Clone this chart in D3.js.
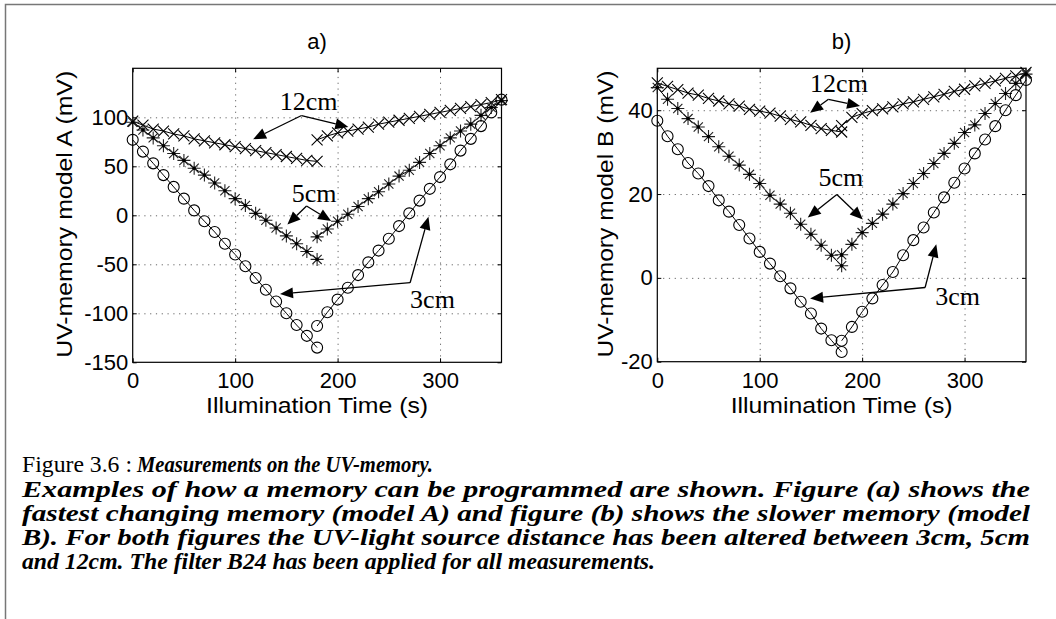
<!DOCTYPE html>
<html>
<head>
<meta charset="utf-8">
<script src="https://cdn.jsdelivr.net/npm/d3@7"></script>
<style>
  body { margin: 0; background: #fff; }
  svg { display: block; }
  .tick text { font-family: "Liberation Sans", Arial, sans-serif; font-size: 22px; fill: #000; }
  .lbl { font-family: "Liberation Sans", Arial, sans-serif; font-size: 22px; fill: #000; }
  .note { font-family: "Liberation Serif", "Times New Roman", serif; font-size: 26px; fill: #000; }
  .cap { font-family: "Liberation Serif", "Times New Roman", serif; font-size: 23.5px; fill: #000; }
</style>
</head>
<body>
<div id="chart"></div>
<script>
// illumination times (s)
const timeDown = [0, 10, 20, 30, 40, 50, 60, 70, 80, 90, 100, 110, 120, 130, 140, 150, 160, 170, 180];
const timeUp = [180, 190, 200, 210, 220, 230, 240, 250, 260, 270, 280, 290, 300, 310, 320, 330, 340, 350, 360];
const xTicks = [0, 100, 200, 300];

// model A (mV)
const a3Down = [77, 65, 53, 41, 29, 17, 5, -6, -17, -29, -40, -52, -64, -76, -88, -100, -112, -123, -135];
const a3Up = [-113, -99, -86, -74, -61, -48, -36, -24, -11, 2, 15, 27, 39, 52, 66, 78, 91, 105, 118];
const a5Down = [95, 87, 79, 71, 63, 56, 48, 41, 33, 25, 17, 10, 2, -5, -13, -21, -29, -37, -45];
const a5Up = [-22, -14, -6, 1, 9, 17, 24, 32, 40, 46, 54, 63, 71, 79, 86, 93, 102, 110, 117];
const a12Down = [96, 92, 88, 86, 83, 81, 78, 76, 74, 72, 70, 68, 66, 64, 62, 60, 58, 56, 55];
const a12Up = [77, 81, 84, 86, 88, 90, 93, 95, 97, 99, 101, 103, 105, 107, 109, 111, 113, 115, 118];
const aTicks = [-150, -100, -50, 0, 50, 100];

// model B (mV)
const b3Down = [37.5, 33.8, 30.7, 27.4, 24.9, 21.9, 18.5, 15.8, 12.6, 9.4, 6.2, 3.4, 0.4, -2.5, -5.7, -8.5, -12.1, -14.9, -17.7];
const b3Up = [-15, -11.7, -8.1, -4.9, -1.7, 1.4, 5.4, 9, 12, 15.6, 19.2, 22.7, 26.1, 29.7, 33, 36.2, 40, 43.6, 47.2];
const b5Down = [45.4, 42.6, 40.4, 38, 36, 33.7, 31.3, 29, 26.9, 24.7, 22.5, 19.7, 17.6, 15.4, 12.8, 10.4, 7.8, 5.4, 2.9];
const b5Up = [5.5, 8, 10.8, 13, 15.2, 17.6, 20.1, 22.5, 24.9, 27.3, 29.7, 32.1, 34.7, 36.5, 39.2, 41.6, 44, 46.4, 48.6];
const b12Down = [46.5, 45.7, 44.9, 44.1, 43.6, 42.8, 42.2, 41.5, 41.0, 40.2, 39.8, 39.3, 38.6, 37.8, 37.2, 36.4, 35.6, 35.2, 34.8];
const b12Up = [36.3, 38.3, 39.2, 39.9, 40.3, 40.8, 41.5, 42, 42.6, 43.2, 43.8, 44.5, 45, 45.8, 46.4, 47, 47.6, 48.2, 49];
const bTicks = [-20, 0, 20, 40];

// annotations in data units: label, text anchor [t, v], vertex, arrow tips
const aNotes = [
    { label: "12cm", text: [143.6, 107.4], vertex: [164.8, 101.8], tips: [[117.5, 77.6], [210.5, 90.1]] },
    { label: "5cm", text: [155.3, 13.3], vertex: [169.7, 9.5], tips: [[151, -9.4], [193.7, -5.8]] },
    { label: "3cm", text: [270.8, -94.9], vertex: [270.8, -68.8], tips: [[143.8, -80.3], [288.7, -1.4]] }
];
const bNotes = [
    { label: "12cm", text: [149.2, 44.4], vertex: [167.1, 42.6], tips: [[149.2, 39.4], [198, 41]] },
    { label: "5cm", text: [157.3, 21.9], vertex: [175.3, 19.9], tips: [[146.9, 14.4], [200.7, 13.9]] },
    { label: "3cm", text: [271.3, -6.5], vertex: [261.5, -2.3], tips: [[149.2, -4.9], [272.4, 8]] }
];

const width = 1056, height = 619;
const svg = d3.select("#chart").append("svg")
    .attr("width", width)
    .attr("height", height);

svg.append("rect").attr("width", width).attr("height", height).attr("fill", "#fff");

// page frame
svg.append("path")
    .attr("d", "M5.5,619V4.5H1056")
    .attr("fill", "none")
    .attr("stroke", "#777")
    .attr("stroke-width", 1.5);

function drawPanel(p) {
    const x = d3.scaleLinear().domain([0, 360]).range([p.left, p.right]);
    const y = d3.scaleLinear().domain(p.yDomain).range([p.bottom, p.top]);
    const g = svg.append("g");
    const w = p.right - p.left, h = p.bottom - p.top;

    // dotted grid
    const gridX = g.append("g")
        .attr("transform", `translate(0,${p.bottom})`)
        .call(d3.axisBottom(x).tickValues(xTicks.filter(t => t > 0)).tickSize(-h).tickFormat(""));
    const gridY = g.append("g")
        .attr("transform", `translate(${p.left},0)`)
        .call(d3.axisLeft(y).tickValues(p.yTicks.filter(t => t > p.yDomain[0])).tickSize(-w).tickFormat(""));
    [gridX, gridY].forEach(s => {
        s.select(".domain").remove();
        s.selectAll("line").attr("stroke", "#666").attr("stroke-dasharray", "1.2,4.6");
    });

    // axes with inner ticks, plain hyphen for negatives
    const fmt = d => String(d);
    const xAxis = g.append("g")
        .attr("transform", `translate(0,${p.bottom})`)
        .call(d3.axisBottom(x).tickValues(xTicks).tickSize(-4).tickPadding(0).tickFormat(fmt));
    xAxis.selectAll("text").attr("y", 26).attr("dy", 0);
    const yAxis = g.append("g")
        .attr("transform", `translate(${p.left},0)`)
        .call(d3.axisLeft(y).tickValues(p.yTicks).tickSize(-4).tickPadding(0).tickFormat(fmt));
    yAxis.selectAll("text").attr("x", -4.5);
    const xTop = g.append("g")
        .attr("transform", `translate(0,${p.top})`)
        .call(d3.axisTop(x).tickValues(xTicks).tickSize(-4).tickFormat(""));
    const yRight = g.append("g")
        .attr("transform", `translate(${p.right},0)`)
        .call(d3.axisRight(y).tickValues(p.yTicks).tickSize(-4).tickFormat(""));
    [xAxis, yAxis, xTop, yRight].forEach(s => {
        s.select(".domain").remove();
        s.selectAll("line").attr("stroke", "#000");
    });

    g.append("rect")
        .attr("x", p.left).attr("y", p.top)
        .attr("width", w).attr("height", h)
        .attr("fill", "none").attr("stroke", "#000").attr("stroke-width", 1.2);

    // titles and axis labels
    g.append("text").attr("class", "lbl")
        .attr("x", (p.left + p.right) / 2).attr("y", 49)
        .attr("text-anchor", "middle").text(p.title);
    g.append("text").attr("class", "lbl")
        .attr("x", (p.left + p.right) / 2).attr("y", 413)
        .attr("text-anchor", "middle")
        .attr("textLength", 222).attr("lengthAdjust", "spacingAndGlyphs")
        .text("Illumination Time  (s)");
    g.append("text").attr("class", "lbl")
        .attr("transform", `translate(${p.yLabelX},${(p.top + p.bottom) / 2 - 1}) rotate(-90)`)
        .attr("text-anchor", "middle")
        .attr("textLength", 287).attr("lengthAdjust", "spacingAndGlyphs")
        .text(p.yLabel);

    // series
    const line = d3.line().x(d => x(d[0])).y(d => y(d[1]));
    const plot = g.append("g");
    p.series.forEach(s => {
        const pts = s.t.map((t, i) => [t, s.v[i]]);
        plot.append("path")
            .datum(pts)
            .attr("d", line)
            .attr("fill", "none")
            .attr("stroke", "#000")
            .attr("stroke-width", 1);
        const m = plot.append("g")
            .selectAll("g")
            .data(pts)
            .join("g")
            .attr("transform", d => `translate(${x(d[0])},${y(d[1])})`);
        if (s.marker === "o") {
            m.append("circle").attr("r", 5.5)
                .attr("fill", "none").attr("stroke", "#000").attr("stroke-width", 1.1);
        } else if (s.marker === "x") {
            m.append("path").attr("d", "M-5.5,-5.5L5.5,5.5M-5.5,5.5L5.5,-5.5")
                .attr("stroke", "#000").attr("stroke-width", 1.1);
        } else {
            m.append("path").attr("d", "M-6.5,0H6.5M0,-6.5V6.5M-4.6,-4.6L4.6,4.6M-4.6,4.6L4.6,-4.6")
                .attr("stroke", "#222").attr("stroke-width", 1.1);
            m.append("circle").attr("r", 1.8).attr("fill", "#000");
        }
    });

    // annotations with arrows
    const notes = g.append("g");
    p.notes.forEach(n => {
        notes.append("text").attr("class", "note")
            .attr("x", x(n.text[0])).attr("y", y(n.text[1]))
            .text(n.label);
        const vx = x(n.vertex[0]), vy = y(n.vertex[1]);
        n.tips.forEach(tp => {
            const tx = x(tp[0]), ty = y(tp[1]);
            const ang = Math.atan2(ty - vy, tx - vx);
            const len = 13, hw = 5.5;
            const bx = tx - len * Math.cos(ang), by = ty - len * Math.sin(ang);
            notes.append("line")
                .attr("x1", vx).attr("y1", vy).attr("x2", bx).attr("y2", by)
                .attr("stroke", "#000").attr("stroke-width", 1.3);
            const px = -Math.sin(ang) * hw, py = Math.cos(ang) * hw;
            notes.append("path")
                .attr("d", `M${tx},${ty}L${bx + px},${by + py}L${bx - px},${by - py}Z`)
                .attr("fill", "#000");
        });
    });
}

drawPanel({
    title: "a)", yLabel: "UV-memory model A  (mV)", yLabelX: 72,
    left: 132.7, right: 501.5, top: 68.3, bottom: 362.3,
    yDomain: [-150, 150], yTicks: aTicks,
    series: [
        { t: timeDown, v: a12Down, marker: "x" }, { t: timeUp, v: a12Up, marker: "x" },
        { t: timeDown, v: a5Down, marker: "*" }, { t: timeUp, v: a5Up, marker: "*" },
        { t: timeDown, v: a3Down, marker: "o" }, { t: timeUp, v: a3Up, marker: "o" }
    ],
    notes: aNotes
});

drawPanel({
    title: "b)", yLabel: "UV-memory model B  (mV)", yLabelX: 613,
    left: 657.3, right: 1026, top: 68.3, bottom: 361.7,
    yDomain: [-20, 50], yTicks: bTicks,
    series: [
        { t: timeDown, v: b12Down, marker: "x" }, { t: timeUp, v: b12Up, marker: "x" },
        { t: timeDown, v: b5Down, marker: "*" }, { t: timeUp, v: b5Up, marker: "*" },
        { t: timeDown, v: b3Down, marker: "o" }, { t: timeUp, v: b3Up, marker: "o" }
    ],
    notes: bNotes
});

// caption
const cap = svg.append("g").attr("class", "cap");
cap.append("text").attr("x", 22).attr("y", 472)
    .attr("textLength", 110).attr("lengthAdjust", "spacingAndGlyphs")
    .text("Figure 3.6 :");
cap.append("text").attr("x", 137).attr("y", 472)
    .attr("font-weight", "bold").attr("font-style", "italic")
    .attr("textLength", 296).attr("lengthAdjust", "spacingAndGlyphs")
    .text("Measurements on the UV-memory.");
const capLines = [
    ["Examples of how a memory can be programmed are shown. Figure (a) shows the", 1008],
    ["fastest changing memory (model A) and figure (b) shows the slower memory (model", 1008],
    ["B). For both figures the UV-light source distance has been altered between 3cm, 5cm", 1008],
    ["and 12cm. The filter B24 has been applied for all measurements.", 633]
];
capLines.forEach((l, i) => {
    cap.append("text")
        .attr("x", 22).attr("y", 496.5 + i * 24.3)
        .attr("font-weight", "bold").attr("font-style", "italic")
        .attr("textLength", l[1]).attr("lengthAdjust", "spacingAndGlyphs")
        .text(l[0]);
});
</script>
</body>
</html>
